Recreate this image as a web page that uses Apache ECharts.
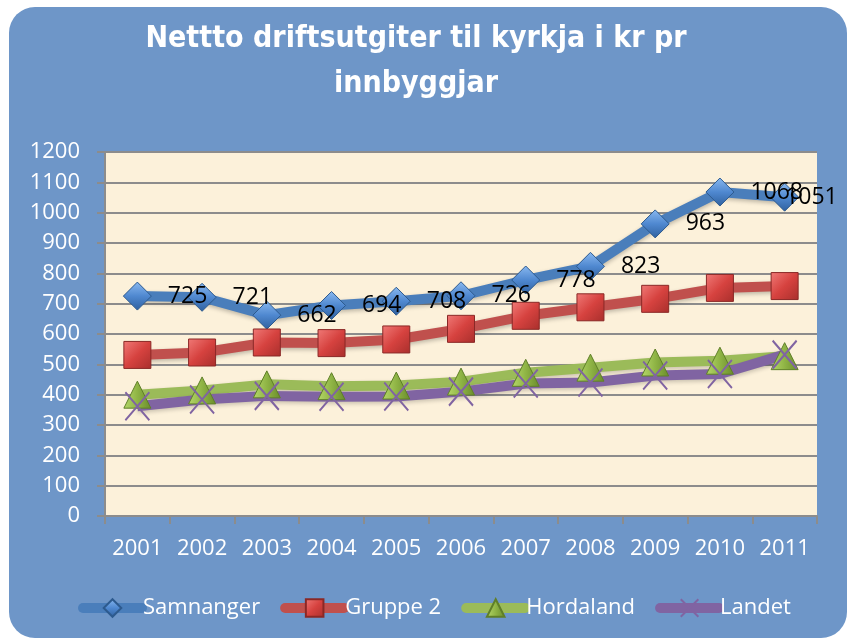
<!DOCTYPE html>
<html>
<head>
<meta charset="utf-8">
<script src="https://cdn.jsdelivr.net/npm/echarts@6/dist/echarts.min.js"></script>
<style>
  html, body { margin: 0; padding: 0; background: #fff; }
  #main { width: 854px; height: 639px; }
</style>
</head>
<body>
<div id="main"></div>
<script>
var years = ['2001', '2002', '2003', '2004', '2005', '2006', '2007', '2008', '2009', '2010', '2011'];
var samnanger = [725, 721, 662, 694, 708, 726, 778, 823, 963, 1068, 1051];
var gruppe2 = [531, 539, 572, 570, 582, 617, 660, 688, 716, 752, 758];
var hordaland = [400, 414, 434, 428, 430, 443, 472, 489, 506, 512, 527];
var landet = [362, 384, 396, 393, 394, 410, 437, 440, 463, 468, 532];

var labelFont = 'Open Sans';

// Samnanger labels sit to the right of the point, the last one is pushed in
var samData = samnanger.map(function (v, i) {
  if (i === samnanger.length - 1) {
    return { value: v, label: { distance: -14 } };
  }
  return v;
});

var chart = echarts.init(document.getElementById('main'));

chart.setOption({
  backgroundColor: 'transparent',
  animation: false,
  graphic: [{
    type: 'rect',
    z: -10,
    shape: { x: 9, y: 7, width: 838, height: 631, r: 26 },
    style: { fill: '#6e96c8' }
  }],
  title: {
    text: 'Nettto driftsutgiter til kyrkja i kr pr\ninnbyggjar',
    left: 411,
    top: 12,
    textAlign: 'center',
    textStyle: {
      color: '#ffffff',
      fontFamily: '"Liberation Sans Narrow", "DejaVu Sans Condensed", sans-serif',
      fontWeight: 'bold',
      fontSize: 30,
      lineHeight: 45
    }
  },
  legend: {
    left: 73,
    top: 592,
    itemWidth: 59,
    itemHeight: 22,
    itemGap: 20,
    lineStyle: { width: 10, cap: 'round' },
    textStyle: { color: '#ffffff', fontFamily: labelFont, fontSize: 22, padding: [0, 0, 0, -4] },
    data: ['Samnanger', 'Gruppe 2', 'Hordaland', 'Landet']
  },
  grid: {
    left: 105,
    right: 37,
    top: 152,
    bottom: 123,
    show: true,
    backgroundColor: '#fcf1da',
    borderWidth: 0
  },
  xAxis: {
    type: 'category',
    data: years,
    boundaryGap: true,
    axisLine: { lineStyle: { color: '#8c8c8c', width: 2 } },
    axisTick: { show: true, length: 8, lineStyle: { color: '#8c8c8c', width: 2 } },
    axisLabel: { color: '#ffffff', fontFamily: labelFont, fontSize: 22, margin: 22, interval: 0 },
    splitLine: { show: false }
  },
  yAxis: {
    type: 'value',
    min: 0,
    max: 1200,
    interval: 100,
    axisLine: { show: true, lineStyle: { color: '#8c8c8c', width: 2 } },
    axisTick: { show: true, length: 8, lineStyle: { color: '#8c8c8c', width: 2 } },
    axisLabel: {
      color: '#ffffff',
      fontFamily: labelFont,
      fontSize: 22,
      margin: 25,
      formatter: function (v) { return String(v); }
    },
    splitLine: { lineStyle: { color: '#8c8c8c', width: 2 } }
  },
  series: [
    {
      name: 'Samnanger',
      type: 'line',
      data: samData,
      symbol: 'diamond',
      symbolSize: 28,
      lineStyle: { color: '#4a7ebb', width: 10, shadowColor: 'rgba(0,0,0,0.25)', shadowBlur: 4, shadowOffsetY: 2 },
      itemStyle: {
        color: new echarts.graphic.LinearGradient(0, 0, 0, 1, [
          { offset: 0, color: '#8ab9f0' },
          { offset: 0.5, color: '#4f88d0' },
          { offset: 1, color: '#2f609e' }
        ]),
        borderColor: '#2d5a8e',
        borderWidth: 1
      },
      label: {
        show: true,
        position: 'right',
        distance: 16,
        color: '#000000',
        fontFamily: labelFont,
        fontSize: 23
      }
    },
    {
      name: 'Gruppe 2',
      type: 'line',
      data: gruppe2,
      symbol: 'rect',
      symbolSize: 27,
      lineStyle: { color: '#c0504d', width: 10, shadowColor: 'rgba(0,0,0,0.25)', shadowBlur: 4, shadowOffsetY: 2 },
      itemStyle: {
        color: new echarts.graphic.LinearGradient(0, 0, 1, 1, [
          { offset: 0, color: '#f07a77' },
          { offset: 0.5, color: '#d6423f' },
          { offset: 1, color: '#a82f2c' }
        ]),
        borderColor: '#8a2826',
        borderWidth: 1
      }
    },
    {
      name: 'Hordaland',
      type: 'line',
      data: hordaland,
      symbol: 'triangle',
      symbolSize: 27,
      lineStyle: { color: '#9bbb59', width: 10, shadowColor: 'rgba(0,0,0,0.2)', shadowBlur: 4, shadowOffsetY: 2 },
      itemStyle: {
        color: new echarts.graphic.LinearGradient(0, 0, 1, 0, [
          { offset: 0, color: '#b6d86a' },
          { offset: 0.5, color: '#8fb445' },
          { offset: 1, color: '#6a8c2c' }
        ]),
        borderColor: '#5f7f28',
        borderWidth: 1
      }
    },
    {
      name: 'Landet',
      type: 'line',
      data: landet,
      symbol: 'path://M0,0L10,12M10,0L0,12',
      symbolSize: [24, 28],
      lineStyle: { color: '#8064a2', width: 10, shadowColor: 'rgba(0,0,0,0.2)', shadowBlur: 4, shadowOffsetY: 2 },
      itemStyle: {
        color: '#8064a2',
        borderColor: '#8064a2',
        borderWidth: 2
      }
    }
  ]
});
</script>
</body>
</html>
